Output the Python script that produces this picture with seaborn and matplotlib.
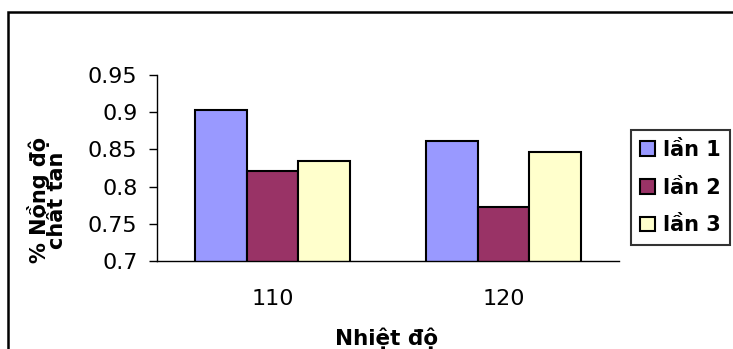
import matplotlib
matplotlib.use("Agg")
import matplotlib.pyplot as plt
from matplotlib.patches import Rectangle
import seaborn as sns
import pandas as pd

categories = ["110", "120"]
series_names = ["lần 1", "lần 2", "lần 3"]
lan1 = [0.903, 0.861]
lan2 = [0.821, 0.772]
lan3 = [0.834, 0.846]
yticks = [0.7, 0.75, 0.8, 0.85, 0.9, 0.95]
ytick_labels = ["0.7", "0.75", "0.8", "0.85", "0.9", "0.95"]
colors = ["#9999FF", "#993366", "#FFFFCC"]

rows = []
for name, vals in zip(series_names, [lan1, lan2, lan3]):
    for c, v in zip(categories, vals):
        rows.append({"cat": c, "series": name, "value": v})
df = pd.DataFrame(rows)

sns.set_style("white")
plt.rcParams["font.family"] = ["DejaVu Sans"]
plt.rcParams["text.color"] = "black"
plt.rcParams["xtick.color"] = "black"
plt.rcParams["ytick.color"] = "black"
plt.rcParams["axes.labelcolor"] = "black"

W, H = 733, 349
fig = plt.figure(figsize=(W / 100, H / 100), dpi=100)
ax = fig.add_axes([157 / W, 1 - 261 / H, (619 - 157) / W, (261 - 75) / H])

sns.barplot(data=df, x="cat", y="value", hue="series", palette=colors,
            saturation=1, width=0.675, gap=0, edgecolor="black", linewidth=1.5,
            ax=ax, legend=True)

ax.set_ylim(0.7, 0.95)
ax.set_xlim(-0.5, 1.5)
ax.set_yticks(yticks)
ax.set_yticklabels(ytick_labels, fontsize=16)
ax.set_xticks([0, 1])
ax.set_xticklabels(categories, fontsize=16)
ax.tick_params(axis="x", which="major", length=0, pad=20)
ax.set_xticks([-0.5, 0.5, 1.5], minor=True)
ax.tick_params(axis="x", which="minor", length=6, width=1, color="black", direction="out")
ax.tick_params(axis="y", length=6, width=1, color="black", direction="out", left=True, pad=8)

for s in ["top", "right"]:
    ax.spines[s].set_visible(False)
for s in ["left", "bottom"]:
    ax.spines[s].set_color("black")
    ax.spines[s].set_linewidth(1)

ax.set_xlabel("")
ax.set_ylabel("")
fig.text(387 / W, 1 - 338 / H, "Nhiệt độ", ha="center", va="center",
         fontsize=15.5, fontweight="bold", color="black")
fig.text(47 / W, 1 - 200 / H, "% Nồng độ\nchất tan", ha="center", va="center",
         rotation=90, fontsize=15, fontweight="bold", linespacing=0.8, color="black")

handles, labels = ax.get_legend_handles_labels()
ax.legend_.remove()
leg = fig.legend(handles, labels, loc="center", bbox_to_anchor=(680.5 / W, 1 - 187.5 / H),
                 frameon=True, fancybox=False, edgecolor="black",
                 prop={"size": 15, "weight": "bold"},
                 handlelength=0.7, handleheight=0.7, handletextpad=0.4,
                 labelspacing=0.85, borderpad=0.45)
leg.get_frame().set_linewidth(1.5)
for t in leg.get_texts():
    t.set_color("black")

fig.patches.append(Rectangle((7.5 / W, -0.1), 1.2, 0.1 + (1 - 12.5 / H),
                             transform=fig.transFigure, fill=False,
                             edgecolor="black", linewidth=1.8, figure=fig))

fig.savefig("out.png", dpi=100)
